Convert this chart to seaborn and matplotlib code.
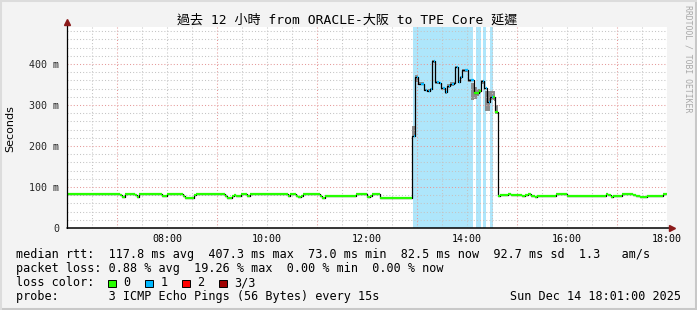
import numpy as np
import pandas as pd
import matplotlib
matplotlib.use("Agg")
import matplotlib.pyplot as plt
import seaborn as sns
from matplotlib.patches import Rectangle
from matplotlib.lines import Line2D
from matplotlib.ticker import FixedLocator, FixedFormatter, NullFormatter

# ---------------- data (minutes after 06:00, values in ms) ----------------
step_minutes = [0, 64, 66, 70, 75, 82, 84, 86, 92, 114, 120, 139, 141, 152, 155,
                190, 192, 198, 200, 203, 206, 209, 216, 219, 265, 268, 275, 277,
                281, 283, 304, 306, 310, 347, 360, 364, 366, 375,
                414, 418, 421, 428, 432, 436, 438, 442, 446, 449, 453, 456, 460,
                464, 466, 469, 472, 474, 481, 488, 494, 497, 500, 504, 508, 511,
                514, 517, 520, 529, 533, 546, 550, 553, 557, 562, 564, 587, 600,
                647, 649, 653, 655, 666, 679, 683, 688, 696, 715]
median_ms = [83, 80, 76, 82, 83, 80, 76, 82, 83, 79, 83, 79, 73, 80, 83,
             79, 74, 77, 80, 77, 79, 82, 78, 82, 78, 83, 79, 76,
             79, 83, 79, 74, 78, 83, 75, 78, 83, 72,
             224, 368, 352, 337, 335, 339, 407, 355, 353, 341, 331, 345, 350,
             354, 393, 357, 367, 384, 361, 328, 334, 359, 341, 308, 320, 320,
             284, 79, 81, 82, 81, 78, 81, 83, 79, 76, 79, 83, 79,
             82, 80, 76, 79, 83, 80, 77, 75, 79, 82]
loss_level = [0] * 38 + [1] * 19 + [0, 0] + [1, 1, 1, 1] + [0, 0] + [0] * 22
end_minute = 720

smoke_minutes = [414, 418, 421, 428, 432, 436, 438, 442, 446, 449, 453, 456, 460,
                 464, 466, 469, 472, 474, 481, 485, 488, 492, 494, 497, 500, 502,
                 508, 512, 514, 517]
smoke_lo_ms = [222, 356, 348, 334, 332, 336, 403, 352, 350, 337, 327, 342, 347,
               351, 390, 353, 364, 380, 355, 312, 314, 322, 330, 352, 336, 285,
               312, 310, 278, 79]
smoke_hi_ms = [248, 374, 356, 340, 338, 342, 409, 358, 356, 344, 335, 350, 356,
               357, 396, 360, 370, 387, 364, 353, 343, 340, 340, 362, 346, 334,
               335, 335, 300, 79]

band_start_min = [415, 491, 499, 508]
band_end_min = [487, 497, 503, 511]

loss_colors = ["#26ff00", "#00b8ff", "#ff0000", "#a00000"]
loss_names = ["0", "1", "2", "3/3"]
band_color = "#aee6fb"

x_label_hours = [8, 10, 12, 14, 16, 18]
x_labels = ["08:00", "10:00", "12:00", "14:00", "16:00", "18:00"]
y_tick_values = [0, 100, 200, 300, 400]
y_tick_labels = ["0", "100 m", "200 m", "300 m", "400 m"]

title = "過去 12 小時 from ORACLE-大阪 to TPE Core 延遲"
stats_rtt = "median rtt:  117.8 ms avg  407.3 ms max  73.0 ms min  82.5 ms now  92.7 ms sd  1.3   am/s"
stats_loss = "packet loss: 0.88 % avg  19.26 % max  0.00 % min  0.00 % now"
probe_text = "probe:       3 ICMP Echo Pings (56 Bytes) every 15s"
date_text = "Sun Dec 14 18:01:00 2025"

# ---------------- figure ----------------
sns.set_theme(style="white")
plt.rcParams["font.family"] = ["DejaVu Sans Mono", "Noto Sans CJK TC"]

W, H = 697, 310
fig = plt.figure(figsize=(W / 100, H / 100), dpi=100)
fig.patch.set_facecolor("#f3f3f3")
L, R, T, B = 67, 667, 27, 228
ax = fig.add_axes([L / W, 1 - B / H, (R - L) / W, (B - T) / H])
ax.set_facecolor("white")

def hrs(m):
    return 6 + np.asarray(m, dtype=float) / 60.0

# loss background bands
for s, e in zip(band_start_min, band_end_min):
    ax.axvspan(hrs(s), hrs(e), color=band_color, lw=0, zorder=0.2)

# smoke
ax.fill_between(hrs(smoke_minutes), smoke_lo_ms, smoke_hi_ms, step="post",
                color="#8c8c8c", lw=0, zorder=2)

# median line (black connector) through seaborn
df = pd.DataFrame({"t": hrs(step_minutes + [end_minute]),
                   "ms": median_ms + [median_ms[-1]]})
sns.lineplot(data=df, x="t", y="ms", drawstyle="steps-post", color="black",
             lw=0.9, estimator=None, sort=False, ax=ax, zorder=4)

# loss-coloured median segments
t_all = step_minutes + [end_minute]
for i, v in enumerate(median_ms):
    lv = loss_level[i]
    t0, t1 = t_all[i], t_all[i + 1]
    if lv == 0:
        ax.hlines(v, hrs(t0), hrs(t1), colors=loss_colors[lv], lw=1.6, zorder=5)
    else:
        # black step with a coloured tail, as drawn by smokeping
        tm = t0 + 0.55 * (t1 - t0)
        ax.hlines(v, hrs(tm), hrs(t1), colors=loss_colors[lv], lw=1.6, zorder=5)

# axes limits / ticks / grid
ax.set_xlim(6, 18)
ax.set_ylim(0, 490)
ax.set_xlabel("")
ax.set_ylabel("")

odd_hours = [7, 9, 11, 13, 15, 17]
half = [h for h in np.arange(6.5, 18.01, 0.5) if h not in odd_hours]
ax.xaxis.set_major_locator(FixedLocator(odd_hours))
ax.xaxis.set_major_formatter(NullFormatter())
ax.xaxis.set_minor_locator(FixedLocator(half))
lab_map = dict(zip(x_label_hours, x_labels))
ax.xaxis.set_minor_formatter(FixedFormatter([lab_map.get(h, "") for h in half]))

ax.yaxis.set_major_locator(FixedLocator(y_tick_values))
ax.yaxis.set_major_formatter(FixedFormatter(y_tick_labels))
ax.yaxis.set_minor_locator(FixedLocator([v for v in range(20, 481, 20) if v % 100]))

ax.grid(which="major", color="#e59a9a", lw=0.75, ls=(0, (1, 2)), zorder=1)
ax.grid(which="minor", color="#c4c4c4", lw=0.75, ls=(0, (1, 2)), zorder=1)
ax.set_axisbelow(False)
for gl in ax.get_xgridlines() + ax.get_ygridlines():
    gl.set_zorder(1)

ax.tick_params(axis="x", which="major", direction="in", length=2.5, width=0.8,
               color="#d04040", labelsize=7.2, pad=4)
ax.tick_params(axis="x", which="minor", direction="in", length=2.5, width=0.8,
               color="#a0a0a0", labelsize=7.2, pad=4.5, labelcolor="black")
ax.tick_params(axis="y", which="major", direction="out", length=2.5, width=0.8,
               color="black", labelsize=7.2, pad=3)
ax.tick_params(axis="y", which="minor", direction="out", length=2.0, width=0.8,
               color="#808080")
for lbl in ax.get_xticklabels(minor=True) + ax.get_yticklabels():
    lbl.set_family("DejaVu Sans Mono")

for sp in ax.spines.values():
    sp.set_visible(False)

# axis lines with arrows
ax.add_line(Line2D([0, 1.008], [0, 0], transform=ax.transAxes, color="black",
                   lw=1.1, clip_on=False, zorder=6))
ax.add_line(Line2D([0, 0], [0, 1.02], transform=ax.transAxes, color="black",
                   lw=0.9, clip_on=False, zorder=6))
ax.plot([1.008], [0], marker=">", ms=4.5, color="#8b1a1a", transform=ax.transAxes,
        clip_on=False, zorder=7, mec="#8b1a1a")
ax.plot([0], [1.025], marker="^", ms=4.5, color="#8b1a1a", transform=ax.transAxes,
        clip_on=False, zorder=7, mec="#8b1a1a")

def fx(px):
    return px / W

def fy(py):
    return 1 - py / H

# title & labels
fig.text(fx(347), fy(20.5), title, ha="center", va="center", fontsize=9.4,
         family=["DejaVu Sans Mono", "Noto Sans CJK TC"], color="black")
fig.text(fx(10), fy(129), "Seconds", rotation=90, ha="center", va="center",
         fontsize=8, family="DejaVu Sans", color="black")
fig.text(fx(688), fy(5), "RRDTOOL / TOBI OETIKER", rotation=270, ha="center",
         va="top", fontsize=5.9, family="DejaVu Sans Mono", color="#a8a8a8")

# legend area
mono = dict(family="DejaVu Sans Mono", fontsize=8.5, color="black",
            va="center", ha="left")
fig.text(fx(16), fy(254.5), stats_rtt, **mono)
fig.text(fx(16), fy(268.5), stats_loss, **mono)
fig.text(fx(16), fy(282.5), "loss color:", **mono)
box_x = [108, 145, 182, 219]
for bx, c, name in zip(box_x, loss_colors, loss_names):
    fig.patches.append(Rectangle((fx(bx), fy(287)), 8 / W, 7 / H,
                                 transform=fig.transFigure, facecolor=c,
                                 edgecolor="black", lw=0.7))
    fig.text(fx(bx + 15.5), fy(282.5), name, **mono)
fig.text(fx(16), fy(296.5), probe_text, **mono)
fig.text(fx(681), fy(296.5), date_text, family="DejaVu Sans Mono", fontsize=8.5,
         color="black", va="center", ha="right")

# frame of the image
fig.add_artist(Line2D([0, 1], [0.0035, 0.0035], transform=fig.transFigure,
                      color="#c8c8c8", lw=2.2))
fig.add_artist(Line2D([0.998, 0.998], [0, 1], transform=fig.transFigure,
                      color="#c8c8c8", lw=2.2))
fig.add_artist(Line2D([0, 1], [0.997, 0.997], transform=fig.transFigure,
                      color="#dcdcdc", lw=1.5))
fig.add_artist(Line2D([0.001, 0.001], [0, 1], transform=fig.transFigure,
                      color="#dcdcdc", lw=1.5))

fig.savefig("out.png", dpi=100, facecolor=fig.get_facecolor())
